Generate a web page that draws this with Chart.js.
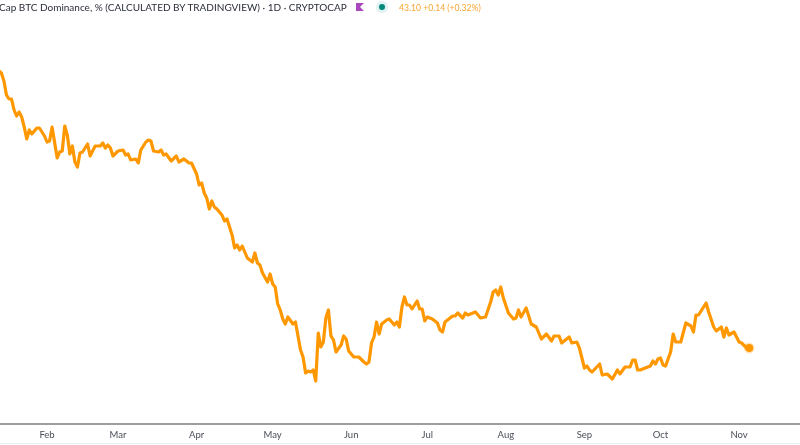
<!DOCTYPE html>
<html>
<head>
<meta charset="utf-8">
<script src="https://cdn.jsdelivr.net/npm/chart.js@4/dist/chart.umd.min.js"></script>
<style>
  html, body { margin: 0; padding: 0; background: #fff; overflow: hidden; }
  #wrap { position: relative; width: 800px; height: 445px; overflow: hidden; }
  #title { position: absolute; left: -1px; top: 0; font: 10px Lato, sans-serif; line-height: 15px; color: #2a2e39; white-space: nowrap; }
  #flag { position: absolute; left: 356px; top: 3px; width: 0; height: 0; border: 4px solid #ab47bc; border-right-color: transparent; }
  #dotHalo { position: absolute; left: 376px; top: 1px; width: 12px; height: 12px; border-radius: 50%; background: #e0f2f1; }
  #dot { position: absolute; left: 379px; top: 4px; width: 6px; height: 6px; border-radius: 50%; background: #00897b; }
  #quote { position: absolute; left: 399px; top: 1px; font: 8.6px Lato, sans-serif; line-height: 14px; color: #f7a530; white-space: nowrap; }
  #footLine { position: absolute; left: 0; right: 0; top: 443px; height: 1px; background: #eeeeee; }
  #chart { position: absolute; left: 0; top: 0; }
</style>
</head>
<body>
<div id="wrap">
  <canvas id="chart" width="800" height="445"></canvas>
  <div id="title">Cap BTC Dominance, % (CALCULATED BY TRADINGVIEW) · 1D · CRYPTOCAP</div>
  <div id="flag"></div>
  <div id="dotHalo"></div>
  <div id="dot"></div>
  <div id="quote">43.10 +0.14 (+0.32%)</div>
  <div id="footLine"></div>
</div>
<script>
// day of the year (Jan 1 = 0)
const days = [
  12,13,14,15,16,17,18,19,20,21,22,23,24,25,27,28,30,31,32,33,35,36,37,38,39,40,41,42,43,44,45,47,48,50,52,53,54,55,56,57,59,61,62,63,64,66,67,68,70,71,72,73,75,76,77,78,80,82,83,85,87,88,
  90,91,92,93,94,95,96,97,98,100,101,102,104,105,106,107,108,110,112,113,114,115,116,118,119,120,121,122,123,124,125,126,128,129,131,132,133,134,135,136,137,138,139,140,141,142,143,144,145,147,148,149,150,152,154,156,157,158,159,160,161,162,163,165,166,168,169,170,171,172,173,174,175,177,178,179,
  180,181,183,185,186,187,188,190,191,192,193,195,196,197,200,202,204,206,207,208,209,210,211,213,215,216,217,218,220,222,224,226,228,230,231,233,234,237,238,240,241,
  243,244,245,246,249,250,252,254,256,257,259,261,262,263,264,265,268,269,270,271,272,273,274,275,277,278,279,281,283,285,286,287,288,291,292,294,295,297,298,299,300,302,304,305,307,308
];
const dominance = [
  70.8,70.6,69.8,68.4,68.0,68.0,66.9,66.3,66.7,66.2,65.2,64.0,64.9,64.5,65.1,65.1,64.3,63.7,63.8,65.2,62.1,62.7,62.8,65.3,64.4,62.5,63.3,61.7,61.2,62.6,62.7,63.5,62.3,63.3,63.3,63.6,63.1,63.4,63.1,62.3,62.8,62.9,62.4,62.5,61.9,62.0,61.6,62.9,63.7,63.9,63.8,62.8,62.7,62.9,62.4,62.5,61.8,62.3,61.7,62.0,61.6,61.6,
  60.5,59.4,59.6,58.6,58.1,57.0,57.8,57.2,57.0,56.4,55.8,56.0,54.4,53.1,53.4,52.9,53.3,52.1,51.7,52.6,51.6,51.4,50.6,49.7,50.5,49.5,49.2,47.5,46.9,46.0,45.5,46.2,45.5,45.7,42.9,42.2,40.6,40.8,40.7,40.9,39.8,44.6,43.2,43.7,46.1,46.9,44.3,43.9,42.7,43.4,44.3,44.0,42.8,42.2,42.2,41.7,41.5,41.7,43.6,44.2,45.7,44.5,45.5,45.9,46.0,45.4,45.7,45.2,47.2,48.2,47.4,47.4,47.0,47.8,47.0,47.0,
  45.8,46.2,46.0,45.6,44.9,44.7,45.7,46.1,46.3,46.3,46.6,46.1,46.6,46.4,46.7,46.1,46.2,47.7,48.7,48.9,48.4,49.2,48.1,46.6,46.0,46.1,46.9,46.2,47.1,45.5,45.2,44.0,44.5,43.8,44.3,44.3,43.6,44.2,43.6,43.7,43.1,
  41.1,41.3,40.9,40.7,41.5,40.4,40.5,40.0,40.9,40.5,41.2,41.2,41.9,41.9,40.9,40.9,41.2,41.3,41.8,41.5,42.0,42.1,41.4,41.3,42.7,44.5,43.7,43.7,45.6,45.3,44.7,46.4,46.4,47.6,46.7,45.2,44.8,45.2,44.2,45.1,44.4,44.7,43.7,43.6,43.1,43.1
];
const monthDays = [31,59,90,120,151,181,212,243,273,304];
const monthLabels = ['Feb','Mar','Apr','May','Jun','Jul','Aug','Sep','Oct','Nov'];

const points = days.map((d, i) => ({x: d, y: dominance[i]}));
const lastPoint = points.slice(-1);

new Chart(document.getElementById('chart'), {
  type: 'line',
  data: {
    datasets: [
      {
        data: lastPoint,
        showLine: false,
        pointRadius: 4,
        pointBorderWidth: 3,
        pointBackgroundColor: '#ff9800',
        pointBorderColor: 'rgba(255,152,0,0.25)'
      },
      {
        data: points,
        borderColor: '#ff9800',
        borderWidth: 3.2,
        pointRadius: 0,
        tension: 0,
        borderJoinStyle: 'round'
      }
    ]
  },
  options: {
    responsive: false,
    animation: false,
    layout: {padding: 0, autoPadding: false},
    plugins: {legend: {display: false}, tooltip: {enabled: false}},
    scales: {
      x: {
        type: 'linear',
        min: 12.45,
        max: 328.03,
        grid: {display: false, drawTicks: false},
        border: {color: '#9e9e9e', width: 2},
        afterBuildTicks: axis => { axis.ticks = monthDays.map(v => ({value: v})); },
        afterFit: axis => { axis.height = 21; axis.paddingLeft = 0; axis.paddingRight = 0; },
        ticks: {
          autoSkip: false,
          maxRotation: 0,
          padding: 5,
          color: '#4a4e57',
          font: {family: 'Lato', size: 9.5},
          callback: v => monthLabels[monthDays.indexOf(v)]
        }
      },
      y: {
        display: false,
        min: 35.5,
        max: 77.9
      }
    }
  }
});
</script>
</body>
</html>
